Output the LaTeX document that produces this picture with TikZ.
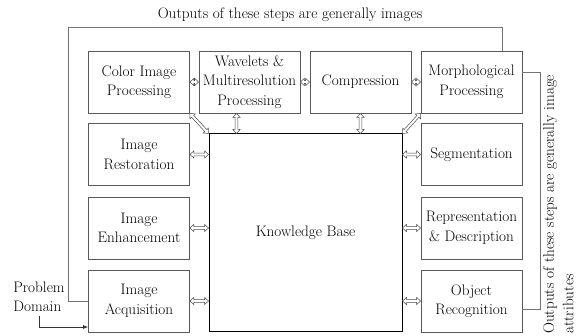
\documentclass[tikz,border=0pt]{standalone}
\usetikzlibrary{arrows.meta,calc}
\begin{document}
\begin{tikzpicture}[x=1pt,y=-1pt,
  font=\fontsize{15.2}{19.5}\selectfont,
  proc/.style={draw=black!65, line width=0.8pt, minimum width=101pt, minimum height=62pt, align=center, inner sep=1pt},
  dbl/.style={draw=black!70, fill=white, line width=0.5pt, line join=miter,
    to path={
      -- ($(\tikztostart)!4pt!(\tikztotarget)!3.6pt!90:(\tikztotarget)$)
      -- ($(\tikztostart)!4pt!(\tikztotarget)!1.4pt!90:(\tikztotarget)$)
      -- ($(\tikztotarget)!4pt!(\tikztostart)!1.4pt!-90:(\tikztostart)$)
      -- ($(\tikztotarget)!4pt!(\tikztostart)!3.6pt!-90:(\tikztostart)$)
      -- (\tikztotarget)
      -- ($(\tikztotarget)!4pt!(\tikztostart)!3.6pt!90:(\tikztostart)$)
      -- ($(\tikztotarget)!4pt!(\tikztostart)!1.4pt!90:(\tikztostart)$)
      -- ($(\tikztostart)!4pt!(\tikztotarget)!1.4pt!-90:(\tikztotarget)$)
      -- ($(\tikztostart)!4pt!(\tikztotarget)!3.6pt!-90:(\tikztotarget)$)
      -- cycle}},
  loopline/.style={draw=black!55, line width=0.7pt}]
\useasboundingbox (0,0) rectangle (586,336);
\fill[white] (0,0) rectangle (586,336);
% boxes
\node[proc] (colorimg) at (139,82) {Color Image\\Processing};
\node[proc] (wavelets) at (249.5,82) {Wavelets \&\\Multiresolution\\Processing};
\node[proc] (compression) at (360.5,82) {Compression};
\node[proc] (morph) at (471.5,82) {Morphological\\Processing};
\node[proc] (restoration) at (139,154.5) {Image\\Restoration};
\node[proc] (enhancement) at (139,228) {Image\\Enhancement};
\node[proc] (acquisition) at (139,301) {Image\\Acquisition};
\node[proc] (segmentation) at (471.5,154.5) {Segmentation};
\node[proc] (representation) at (471.5,228) {Representation\\\& Description};
\node[proc] (objrec) at (471.5,301) {Object\\Recognition};
\node[draw=black, line width=1pt, minimum width=193pt, minimum height=198pt] (kb) at (305.5,233) {Knowledge Base};
% arrows
\draw[dbl] (colorimg.east) to (wavelets.west);
\draw[dbl] (wavelets.east) to (compression.west);
\draw[dbl] (compression.east) to (morph.west);
\coordinate (wv) at ($(wavelets.south)+(-13,0)$);
\draw[dbl] (wv) to (wv |- kb.north);
\draw[dbl] (compression.south) to (compression.south |- kb.north);
\draw[dbl] (colorimg.south east) to (kb.north west);
\draw[dbl] (morph.south west) to (kb.north east);
\draw[dbl] (restoration.east) to (restoration.east -| kb.west);
\draw[dbl] (enhancement.east) to (enhancement.east -| kb.west);
\draw[dbl] (acquisition.east) to (acquisition.east -| kb.west);
\draw[dbl] (segmentation.west) to (segmentation.west -| kb.east);
\draw[dbl] (representation.west) to (representation.west -| kb.east);
\draw[dbl] (objrec.west) to (objrec.west -| kb.east);
% loops
\coordinate (tl) at (68,27);
\coordinate (tr) at (502,27);
\draw[loopline] (acquisition.west) -| (tl) -- (tr) -- (tr |- morph.north);
\coordinate (rt) at (540,72);
\coordinate (rb) at (540,309);
\draw[loopline] (morph.east |- rt) -- (rt) -- (rb) -- (rb -| objrec.east);
% texts
\node (title) at (290,15) {Outputs of these steps are generally images};
\node[rotate=90, anchor=north west, align=left, inner sep=0pt] (attr) at (543,334) {Outputs of these steps are generally image\\attributes};
\node[align=left] (problem) at (39,297) {Problem\\Domain};
\coordinate (pa) at (acquisition.west |- {0,327});
\draw[black!80, line width=0.7pt, -{Latex[length=5pt,width=4pt]}] (problem.south) |- (pa);
\end{tikzpicture}
\end{document}
